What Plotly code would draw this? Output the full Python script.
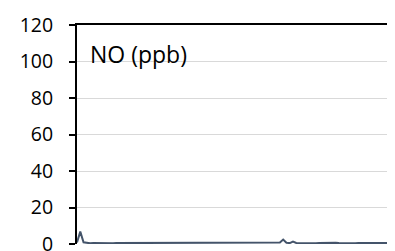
import plotly.graph_objects as go

# Hourly index (sample number) and NO concentration (ppb)
no_ppb = [
    0.8, 6.8, 0.9, 0.5, 0.4, 0.6, 0.5, 0.4, 0.5, 0.6,
    0.5, 0.4, 0.5, 0.5, 0.6, 0.5, 0.4, 0.5, 0.7, 0.5,
    0.4, 0.5, 0.6, 0.5, 0.4, 0.5, 0.5, 0.6, 0.5, 0.4,
    0.5, 0.6, 0.5, 0.4, 0.5, 0.7, 0.5, 0.4, 0.5, 0.6,
    0.5, 0.4, 0.5, 0.5, 0.6, 0.5, 0.4, 0.5, 0.6, 0.5,
    0.4, 0.5, 0.6, 0.5, 0.4, 0.5, 0.7, 0.6, 0.5, 0.4,
    0.5, 0.6, 0.8, 2.4, 0.7, 0.5, 1.3, 0.6, 0.5, 0.4,
    0.5, 0.6, 0.5, 0.4, 0.5, 0.6, 0.5, 0.4, 0.5, 0.7,
    0.5, 0.4, 0.5, 0.6, 0.5, 0.4, 0.5, 0.5, 0.6, 0.5,
    0.4, 0.5, 0.6, 0.5, 0.4, 0.5, 0.6, 0.5, 0.4, 0.5,
]
samples = list(range(len(no_ppb)))
y_ticks = [0, 20, 40, 60, 80, 100, 120]
label_text = "NO (ppb)"

fig = go.Figure()
fig.add_trace(go.Scatter(
    x=samples, y=no_ppb, mode="lines",
    line=dict(color="#44546A", width=2),
    hoverinfo="skip", showlegend=False,
))

fig.update_layout(
    width=395, height=251,
    margin=dict(l=69, r=2, t=17, b=6),
    paper_bgcolor="white", plot_bgcolor="white",
    font=dict(family="Open Sans, sans-serif", size=19, color="black"),
    xaxis=dict(
        range=[0, len(no_ppb) - 1], side="top",
        showline=True, linecolor="black", linewidth=2,
        showgrid=False, zeroline=False, showticklabels=False, ticks="",
    ),
    yaxis=dict(
        range=[0, 120], tickvals=y_ticks,
        showline=True, linecolor="black", linewidth=2,
        ticks="outside", ticklen=6, tickwidth=2, tickcolor="black",
        showgrid=True, gridcolor="#D9D9D9", gridwidth=1,
        zeroline=False, ticklabelstandoff=12, ticklabeloverflow="allow",
        tickfont=dict(size=19.5),
    ),
    annotations=[dict(
        text=label_text, x=0.035, y=104, xref="paper", yref="y",
        xanchor="left", yanchor="middle", showarrow=False,
        font=dict(size=23),
    )],
)

fig.write_html("out.html")
